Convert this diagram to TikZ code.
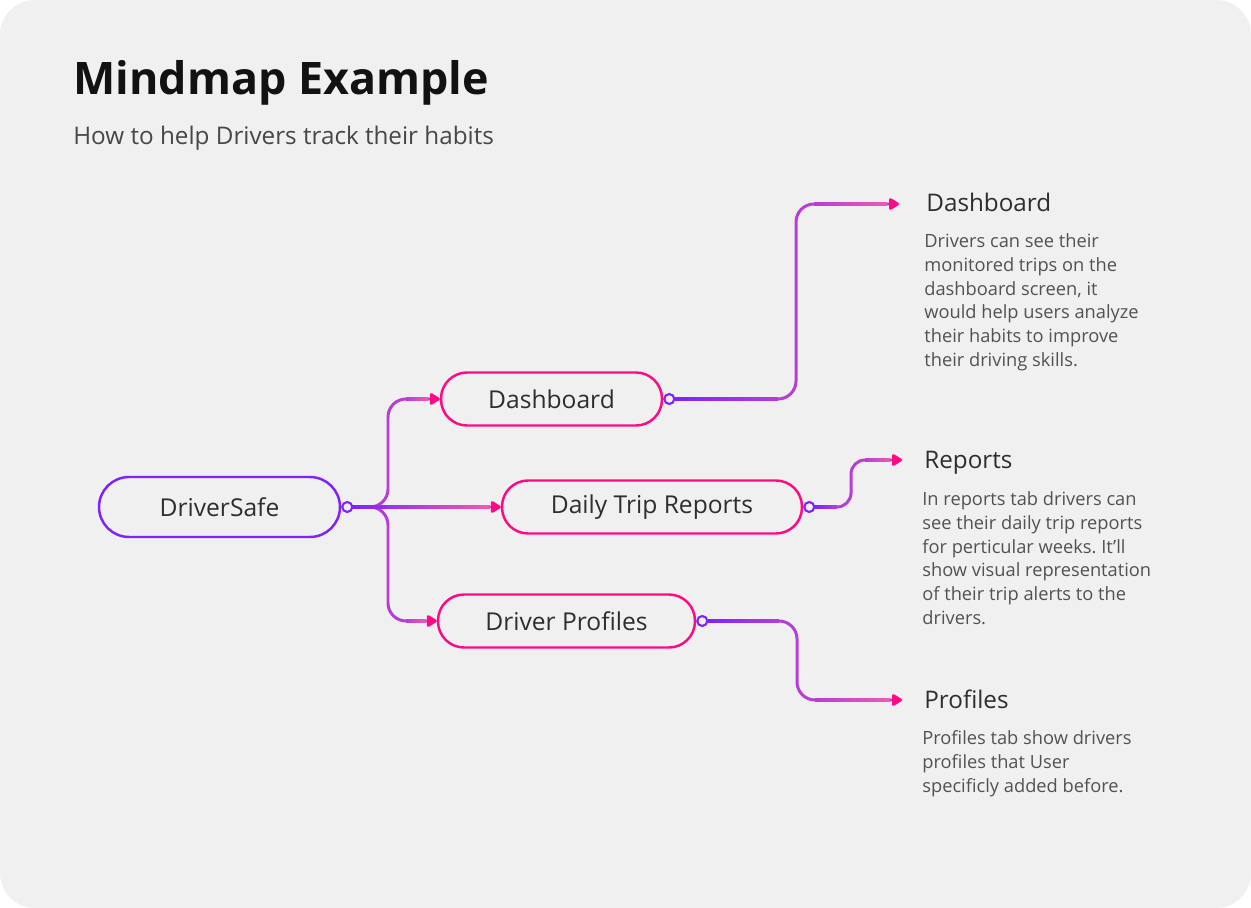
\documentclass[tikz,border=0pt]{standalone}
\usepackage{fontspec}
\setmainfont{Open Sans}
\usepackage{tikz}
\usetikzlibrary{positioning, arrows.meta}
\frenchspacing

\definecolor{bggray}{HTML}{F0F0F0}
\definecolor{mmpurple}{HTML}{7F22FE}
\definecolor{mmmid}{HTML}{B63ED6}
\definecolor{mmpink}{HTML}{F05AB0}
\definecolor{mmtip}{HTML}{FF0A84}
\definecolor{inktext}{HTML}{2E2E2E}
\definecolor{desctext}{HTML}{525252}

\begin{document}
\begin{tikzpicture}[x=0.02cm, y=-0.02cm,
  topic/.style={draw=mmtip, line width=1.4pt, rectangle, rounded corners=0.52cm,
    minimum height=1.06cm, text centered, text=inktext, font=\fontsize{14}{16}\selectfont},
  port/.style={draw=mmpurple, fill=bggray, circle, line width=1.2pt, inner sep=0pt, minimum size=0.2cm},
  link/.style={draw=mmmid, line width=1.7pt, rounded corners=0.36cm,
    -{Triangle[length=6.5pt, width=7.5pt, round, color=mmtip]}},
  head/.style={anchor=base west, inner sep=0pt, text=inktext, font=\fontsize{13.8}{16}\selectfont},
  desc/.style={anchor=north west, align=left, inner sep=0pt, text=desctext, font=\fontsize{10.4}{13.6}\selectfont}
]
\useasboundingbox (0,0) rectangle (1251,908);
\fill[white] (0,0) rectangle (1251,908);
\fill[bggray, rounded corners=0.7cm] (0,0) rectangle (1251,908);

% Title
\node[anchor=base west, inner sep=0pt, text=black!93, font=\fontsize{25.5}{30}\selectfont\bfseries] (title) at (73,95) {Mindmap Example};
\node[anchor=base west, inner sep=0pt, text=black!72, font=\fontsize{13.8}{16}\selectfont] (subtitle) at (73,145) {How to help Drivers track their habits};

% Topics
\node[topic, draw=mmpurple, minimum width=4.82cm, minimum height=1.2cm, rounded corners=0.6cm] (root) at (219.5,507) {DriverSafe};
\node[topic, minimum width=4.42cm] (dash) at (551.5,399) {Dashboard};
\node[topic, minimum width=6cm] (daily) at (652,507) {Daily Trip Reports};
\node[topic, minimum width=5.14cm] (prof) at (566.5,621) {Driver Profiles};

% Ports
\node[port, right=0pt of root] (rport) {};
\node[port, right=0pt of dash] (dport) {};
\node[port, right=0pt of daily] (tport) {};
\node[port, right=0pt of prof] (pport) {};

% Branch points and free ends
\coordinate (fork) at (388,507);
\coordinate (dbend) at (796,399);
\coordinate (tbend) at (851,507);
\coordinate (pbend) at (797,621);
\coordinate (dtip) at (899,204);
\coordinate (ttip) at (902,460);
\coordinate (ptip) at (902,700);

% Links from root
\draw[link] (rport.east) -- (fork) |- (dash.west);
\draw[link] (rport.east) -- (fork) |- (prof.west);
\draw[link] (rport.east) -- (daily.west);
\shade[left color=mmpurple, right color=mmpink] (351,505.5) rectangle (490,508.5);
\shade[left color=mmmid, right color=mmpink] (406,397.5) rectangle (428,400.5);
\shade[left color=mmmid, right color=mmpink] (406,619.5) rectangle (426,622.5);

% Links to details
\draw[link] (dport.east) -- (dbend) |- (dtip);
\draw[link, rounded corners=0.28cm] (tport.east) -- (tbend) |- (ttip);
\draw[link] (pport.east) -- (pbend) |- (ptip);
\shade[left color=mmpurple, right color=mmmid] (675,397.5) rectangle (778,400.5);
\shade[left color=mmmid, right color=mmpink] (814,202.5) rectangle (887,205.5);
\shade[left color=mmpurple, right color=mmmid] (815,505.5) rectangle (837,508.5);
\shade[left color=mmmid, right color=mmpink] (865,458.5) rectangle (890,461.5);
\shade[left color=mmpurple, right color=mmmid] (708,619.5) rectangle (779,622.5);
\shade[left color=mmmid, right color=mmpink] (815,698.5) rectangle (890,701.5);

% Details
\node[head] (hdash) at (926,212) {Dashboard};
\node[desc] (ddash) at (924,233) {Drivers can see their\\monitored trips on the\\dashboard screen, it\\would help users analyze\\their habits to improve\\their driving skills.};
\node[head] (hrep) at (924,469) {Reports};
\node[desc] (drep) at (922,491) {In reports tab drivers can\\see their daily trip reports\\for perticular weeks. It’ll\\show visual representation\\of their trip alerts to the\\drivers.};
\node[head] (hprof) at (924,708) {Profiles};
\node[desc] (dprof) at (922,730) {Profiles tab show drivers\\profiles that User\\specificly added before.};

\end{tikzpicture}
\end{document}
